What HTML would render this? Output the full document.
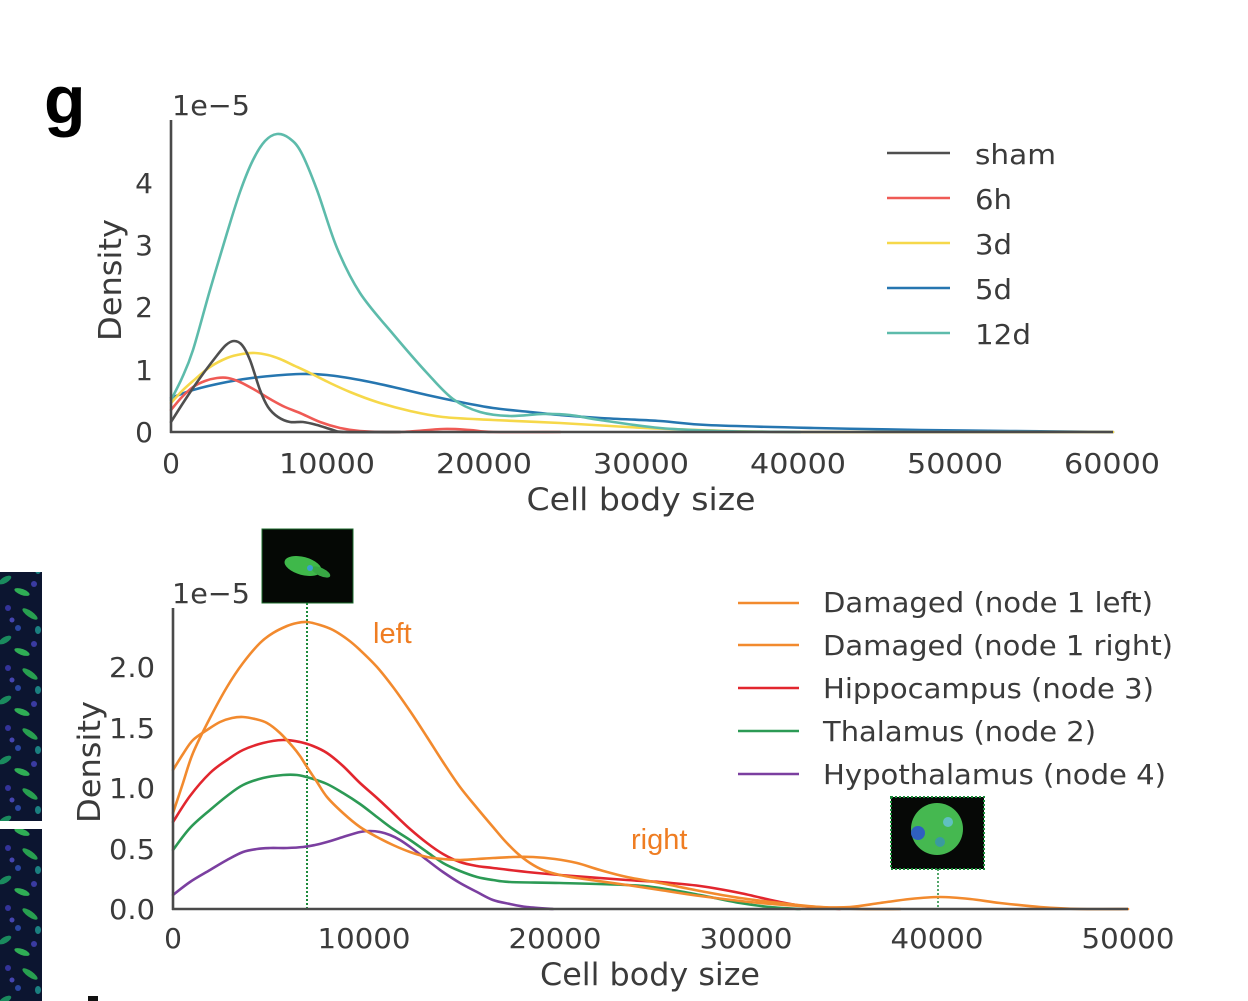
<!DOCTYPE html>
<html><head><meta charset="utf-8"><style>
html,body{margin:0;padding:0;background:#fff;}
svg{display:block;}
text{font-family:"DejaVu Sans","Liberation Sans",sans-serif;fill:#3b3b3b;}
</style></head><body>
<svg width="1248" height="1001" viewBox="0 0 1248 1001" xmlns="http://www.w3.org/2000/svg">
<defs>
<pattern id="cells" x="0" y="0" width="42" height="60" patternUnits="userSpaceOnUse">
<rect width="42" height="60" fill="#0c1530"/>
<ellipse cx="8" cy="8" rx="3" ry="3" fill="#33339a"/>
<ellipse cx="30" cy="14" rx="9" ry="3" fill="#28a050" transform="rotate(35 30 14)"/>
<ellipse cx="18" cy="28" rx="3" ry="3" fill="#2a45a0"/>
<ellipse cx="5" cy="40" rx="7" ry="3" fill="#1a8a5e" transform="rotate(-30 5 40)"/>
<ellipse cx="34" cy="44" rx="3" ry="3" fill="#3a3aa0"/>
<ellipse cx="22" cy="52" rx="8" ry="3" fill="#2fae55" transform="rotate(20 22 52)"/>
<ellipse cx="12" cy="20" rx="2.5" ry="2.5" fill="#4545b0"/>
<ellipse cx="38" cy="30" rx="3" ry="4" fill="#1a8080"/>
</pattern>
</defs>

<rect x="0" y="572" width="42" height="249" fill="url(#cells)"/>
<rect x="0" y="829" width="42" height="172" fill="url(#cells)"/>
<rect x="88" y="996" width="10" height="5" fill="#111"/>

<text x="44" y="123" style="font-family:'Liberation Sans',sans-serif;font-weight:bold;font-size:68px;fill:#000">g</text>

<!-- TOP CHART -->
<text x="172" y="115" font-size="28" textLength="78" lengthAdjust="spacingAndGlyphs">1e−5</text>
<g font-size="28" text-anchor="end">
<text x="153" y="442">0</text>
<text x="153" y="380">1</text>
<text x="153" y="317">2</text>
<text x="153" y="255">3</text>
<text x="153" y="193">4</text>
</g>
<text transform="translate(121,280) rotate(-90)" text-anchor="middle" font-size="31" textLength="122" lengthAdjust="spacingAndGlyphs">Density</text>
<g font-size="28" text-anchor="middle">
<text x="171" y="473">0</text>
<text x="327" y="473" textLength="96" lengthAdjust="spacingAndGlyphs">10000</text>
<text x="484" y="473" textLength="96" lengthAdjust="spacingAndGlyphs">20000</text>
<text x="641" y="473" textLength="96" lengthAdjust="spacingAndGlyphs">30000</text>
<text x="798" y="473" textLength="96" lengthAdjust="spacingAndGlyphs">40000</text>
<text x="955" y="473" textLength="96" lengthAdjust="spacingAndGlyphs">50000</text>
<text x="1112" y="473" textLength="96" lengthAdjust="spacingAndGlyphs">60000</text>
</g>
<text x="641" y="510" text-anchor="middle" font-size="31" textLength="229" lengthAdjust="spacingAndGlyphs">Cell body size</text>

<g fill="none" stroke-width="2.6" stroke-linejoin="round" stroke-linecap="round">
<polyline class="s" stroke="#2676b0" points="171,398 193,390 227,382 260,377 300,374 327,375 360,380 393,387 427,395 460,402 493,408 530,412 560,415 600,418 660,421 707,425 814,428 921,430 1010,431 1113,432"/>
<polyline class="s" stroke="#f6d84a" points="171,403 182,391 193,381 210,367 227,358 242,354 255,353 268,355 280,359 295,366 310,373 330,383 350,392 377,402 410,411 443,417 493,420 560,423 627,427 700,430 800,432 1113,432"/>
<polyline class="s" stroke="#ef5a55" points="171,410 182,397 193,387 205,381 217,378 228,378 240,382 255,390 270,399 285,407 300,413 320,422 340,428 360,431 400,432 443,429 470,430 493,432 560,432"/>
<polyline class="s" stroke="#4f4f4f" points="171,422 185,400 200,378 215,358 226,345 234,341 242,345 250,360 260,390 268,407 278,417 290,422 303,422 317,425 333,430 345,432 400,432"/>
<polyline class="s" stroke="#5dbbab" points="171,400 182,378 193,350 210,290 227,233 240,192 253,160 265,141 277,134 289,138 301,152 317,190 337,248 360,293 393,334 427,373 453,399 480,412 510,416 543,414 570,415 600,420 660,428 720,431 800,432"/>
</g>
<g stroke="#4a4a4a" stroke-width="2.6" fill="none">
<line x1="171" y1="120" x2="171" y2="433"/>
<line x1="170" y1="432" x2="1113" y2="432"/>
</g>

<g stroke-width="2.6">
<line x1="887" y1="153" x2="950" y2="153" stroke="#4f4f4f"/>
<line x1="887" y1="198" x2="950" y2="198" stroke="#ef5a55"/>
<line x1="887" y1="243" x2="950" y2="243" stroke="#f6d84a"/>
<line x1="887" y1="288" x2="950" y2="288" stroke="#2676b0"/>
<line x1="887" y1="333" x2="950" y2="333" stroke="#5dbbab"/>
</g>
<g font-size="28">
<text x="975" y="164" textLength="81" lengthAdjust="spacingAndGlyphs">sham</text>
<text x="975" y="209" textLength="37" lengthAdjust="spacingAndGlyphs">6h</text>
<text x="975" y="254" textLength="37" lengthAdjust="spacingAndGlyphs">3d</text>
<text x="975" y="299" textLength="37" lengthAdjust="spacingAndGlyphs">5d</text>
<text x="975" y="344" textLength="56" lengthAdjust="spacingAndGlyphs">12d</text>
</g>

<!-- BOTTOM CHART -->
<text x="172" y="603" font-size="28" textLength="78" lengthAdjust="spacingAndGlyphs">1e−5</text>
<g font-size="28" text-anchor="end">
<text x="155" y="919" textLength="46" lengthAdjust="spacingAndGlyphs">0.0</text>
<text x="155" y="859" textLength="46" lengthAdjust="spacingAndGlyphs">0.5</text>
<text x="155" y="798" textLength="46" lengthAdjust="spacingAndGlyphs">1.0</text>
<text x="155" y="738" textLength="46" lengthAdjust="spacingAndGlyphs">1.5</text>
<text x="155" y="677" textLength="46" lengthAdjust="spacingAndGlyphs">2.0</text>
</g>
<text transform="translate(100,762) rotate(-90)" text-anchor="middle" font-size="31" textLength="122" lengthAdjust="spacingAndGlyphs">Density</text>
<g font-size="28" text-anchor="middle">
<text x="173" y="948">0</text>
<text x="364" y="948" textLength="93" lengthAdjust="spacingAndGlyphs">10000</text>
<text x="555" y="948" textLength="93" lengthAdjust="spacingAndGlyphs">20000</text>
<text x="746" y="948" textLength="93" lengthAdjust="spacingAndGlyphs">30000</text>
<text x="937" y="948" textLength="93" lengthAdjust="spacingAndGlyphs">40000</text>
<text x="1128" y="948" textLength="93" lengthAdjust="spacingAndGlyphs">50000</text>
</g>
<text x="650" y="985" text-anchor="middle" font-size="31" textLength="220" lengthAdjust="spacingAndGlyphs">Cell body size</text>

<rect x="262" y="529" width="91" height="74" fill="#050805" stroke="#1c6b2c" stroke-width="1"/>
<ellipse cx="303" cy="566" rx="19" ry="9" fill="#3fb84a" transform="rotate(15 303 566)"/>
<ellipse cx="321" cy="572" rx="10" ry="4" fill="#38a844" transform="rotate(25 321 572)"/>
<circle cx="310" cy="568" r="3" fill="#3aa0d0"/>
<line x1="307" y1="603" x2="307" y2="909" stroke="#1d8a3a" stroke-width="2" stroke-dasharray="2,2"/>

<rect x="891" y="797" width="93" height="72" fill="#060806" stroke="#1d8a3a" stroke-width="2" stroke-dasharray="2,2"/>
<circle cx="937" cy="829" r="26" fill="#45b850"/>
<circle cx="918" cy="833" r="7" fill="#2f5fc0"/>
<circle cx="948" cy="822" r="5" fill="#60c0c0"/>
<circle cx="940" cy="842" r="5" fill="#3a9aa0"/>
<line x1="938" y1="869" x2="938" y2="909" stroke="#1d8a3a" stroke-width="1.5" stroke-dasharray="2,2"/>

<g fill="none" stroke-width="2.6" stroke-linejoin="round" stroke-linecap="round">
<polyline class="s" stroke="#7b3fa0" points="173,895 190,882 210,870 227,860 243,852 257,849 270,848 287,848 303,847 315,845 327,842 343,837 360,832 370,831 380,832 390,835 400,840 413,849 427,860 443,872 460,883 477,892 493,900 510,904 527,907 553,909"/>
<polyline class="s" stroke="#2c9a55" points="173,850 190,828 210,810 227,796 243,785 263,778 283,775 297,775 310,778 327,784 343,793 360,804 377,817 393,829 410,840 427,852 443,863 460,871 477,877 493,880 510,882 560,883 627,885 660,888 700,895 740,903 770,907 800,909"/>
<polyline class="s" stroke="#e2262e" points="173,822 190,796 210,773 227,760 243,750 263,743 283,740 300,742 313,746 327,753 343,766 360,783 377,798 393,813 410,829 427,843 443,854 460,862 477,866 493,868 527,872 560,875 627,880 660,882 700,886 740,893 780,902 810,907 840,909"/>
<polyline class="s" stroke="#f28a2e" points="173,770 183,754 193,740 207,730 220,722 232,718 243,717 255,719 267,723 280,733 293,747 300,756 307,767 317,782 327,797 343,813 360,827 377,837 393,845 410,852 427,857 443,859 460,860 477,859 493,858 513,857 533,857 555,859 577,863 600,870 627,877 660,883 700,891 740,898 780,903 820,907 860,909 900,909"/>
<polyline class="s" stroke="#f28a2e" points="173,813 183,783 193,753 210,718 227,687 243,663 260,643 273,633 287,626 297,623 307,622 320,625 333,630 347,639 360,650 377,667 393,687 410,711 427,737 443,762 460,787 477,808 493,827 505,841 517,853 530,863 543,870 560,875 577,878 627,885 660,890 700,896 760,903 820,907 850,907 880,903 910,899 940,897 970,899 1000,903 1040,907 1080,909 1128,909"/>
</g>
<g stroke="#4a4a4a" stroke-width="2.6" fill="none">
<line x1="173" y1="608" x2="173" y2="910"/>
<line x1="172" y1="909" x2="1128" y2="909"/>
</g>

<text x="373" y="643" style="font-family:'Liberation Sans',sans-serif;font-size:29px;fill:#ef7d22">left</text>
<text x="631" y="849" style="font-family:'Liberation Sans',sans-serif;font-size:29px;fill:#ef7d22">right</text>

<g stroke-width="2.6">
<line x1="738" y1="603" x2="799" y2="603" stroke="#f28a2e"/>
<line x1="738" y1="645" x2="799" y2="645" stroke="#f28a2e"/>
<line x1="738" y1="688" x2="799" y2="688" stroke="#e2262e"/>
<line x1="738" y1="731" x2="799" y2="731" stroke="#2c9a55"/>
<line x1="738" y1="774" x2="799" y2="774" stroke="#7b3fa0"/>
</g>
<g font-size="27.5">
<text x="823" y="612" textLength="330" lengthAdjust="spacingAndGlyphs">Damaged (node 1 left)</text>
<text x="823" y="655" textLength="350" lengthAdjust="spacingAndGlyphs">Damaged (node 1 right)</text>
<text x="823" y="698" textLength="331" lengthAdjust="spacingAndGlyphs">Hippocampus (node 3)</text>
<text x="823" y="741" textLength="273" lengthAdjust="spacingAndGlyphs">Thalamus (node 2)</text>
<text x="823" y="784" textLength="343" lengthAdjust="spacingAndGlyphs">Hypothalamus (node 4)</text>
</g>
</svg>
<script>
(function(){
var NS='http://www.w3.org/2000/svg';
var pls=document.querySelectorAll('polyline.s');
for(var k=0;k<pls.length;k++){
 var pl=pls[k];
 var pts=pl.getAttribute('points').trim().split(/\s+/).map(function(p){return p.split(',').map(Number);});
 var d='M'+pts[0][0]+','+pts[0][1];
 for(var i=0;i<pts.length-1;i++){
  var p0=pts[i-1]||pts[i],p1=pts[i],p2=pts[i+1],p3=pts[i+2]||p2;
  var c1x=p1[0]+(p2[0]-p0[0])/6,c1y=p1[1]+(p2[1]-p0[1])/6;
  var c2x=p2[0]-(p3[0]-p1[0])/6,c2y=p2[1]-(p3[1]-p1[1])/6;
  d+=' C'+c1x.toFixed(1)+','+c1y.toFixed(1)+' '+c2x.toFixed(1)+','+c2y.toFixed(1)+' '+p2[0]+','+p2[1];
 }
 var path=document.createElementNS(NS,'path');
 path.setAttribute('d',d);
 path.setAttribute('stroke',pl.getAttribute('stroke'));
 pl.parentNode.replaceChild(path,pl);
}
})();
</script>
</body></html>
